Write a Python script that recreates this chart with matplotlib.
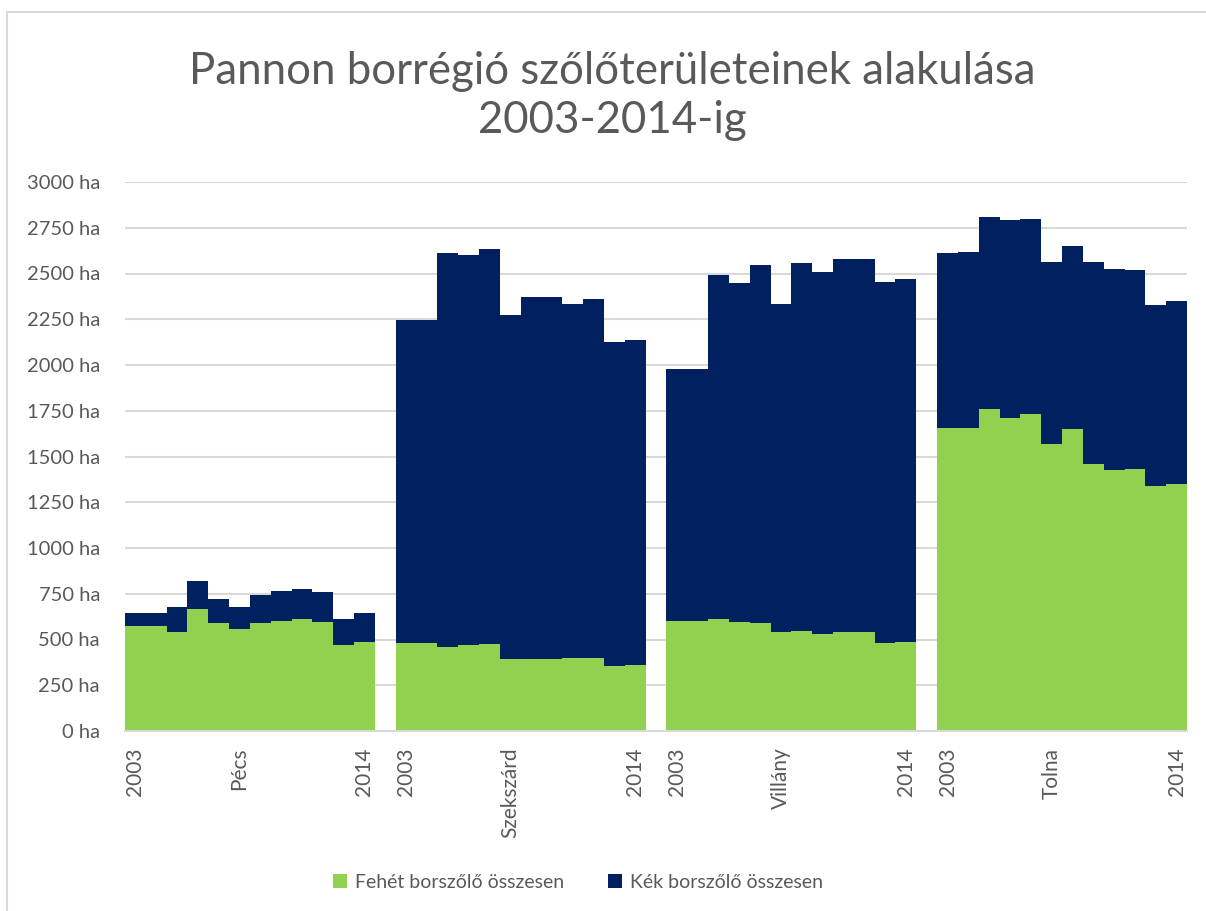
import matplotlib
matplotlib.use("Agg")
import matplotlib.pyplot as plt
from matplotlib.patches import Rectangle

# regions and years
regions = ["Pécs", "Szekszárd", "Villány", "Tolna"]
years = list(range(2003, 2015))

# white grape area (ha), 2003..2014 per region
white_pecs = [575, 575, 539, 665, 590, 557, 592, 601, 612, 596, 470, 486]
white_szekszard = [479, 479, 461, 468, 474, 392, 393, 392, 397, 397, 357, 361]
white_villany = [601, 601, 612, 594, 588, 539, 545, 532, 539, 539, 481, 488]
white_tolna = [1657, 1657, 1757, 1708, 1730, 1566, 1650, 1459, 1426, 1433, 1340, 1350]

# red (blue) grape area (ha)
blue_pecs = [71, 71, 139, 153, 130, 121, 149, 162, 166, 162, 142, 159]
blue_szekszard = [1767, 1767, 2153, 2133, 2160, 1879, 1980, 1981, 1936, 1964, 1767, 1776]
blue_villany = [1375, 1375, 1878, 1852, 1960, 1792, 2012, 1976, 2040, 2040, 1974, 1980]
blue_tolna = [957, 960, 1052, 1084, 1070, 997, 1000, 1102, 1099, 1088, 988, 1000]

white = [white_pecs, white_szekszard, white_villany, white_tolna]
blue = [blue_pecs, blue_szekszard, blue_villany, blue_tolna]

green_c = "#92D050"
navy_c = "#002060"
text_c = "#595959"
grid_c = "#D9D9D9"

plt.rcParams['font.family'] = ['Lato', 'DejaVu Sans']

fig = plt.figure(figsize=(12.06, 9.11), dpi=100)
ax = fig.add_axes([125 / 1206, 1 - 731 / 911, (1187 - 125) / 1206, (731 - 182) / 911])

n = len(years)
tick_pos, tick_lab = [], []
for g, name in enumerate(regions):
    start = g * (n + 1)
    xs = [start + i for i in range(n)]
    ax.bar(xs, white[g], width=1.0, color=green_c, linewidth=0,
           label="Fehét borszőlő összesen" if g == 0 else None)
    ax.bar(xs, blue[g], width=1.0, bottom=white[g], color=navy_c, linewidth=0,
           label="Kék borszőlő összesen" if g == 0 else None)
    tick_pos += [start, start + 5, start + n - 1]
    tick_lab += [str(years[0]), name, str(years[-1])]

ax.set_xlim(-0.5, len(regions) * (n + 1) - 1.5)
ax.set_ylim(0, 3000)
ax.set_yticks(range(0, 3001, 250))
ax.set_yticklabels([f"{v} ha" for v in range(0, 3001, 250)])
ax.set_xticks(tick_pos)
ax.set_xticklabels(tick_lab, rotation=90)

ax.tick_params(axis='both', length=0, labelsize=14.5, labelcolor=text_c)
ax.tick_params(axis='x', pad=12, labelsize=15)
ax.tick_params(axis='y', pad=18)
ax.grid(axis='y', color=grid_c, linewidth=1.5)
ax.set_axisbelow(True)
for s in ['top', 'right', 'left']:
    ax.spines[s].set_visible(False)
ax.spines['bottom'].set_color(grid_c)
ax.spines['bottom'].set_linewidth(1.5)

fig.text(612 / 1206, 1 - 96 / 911, "Pannon borrégió szőlőterületeinek alakulása\n2003-2014-ig",
         ha='center', va='center', fontsize=31.5, color=text_c, linespacing=1.25)

fig.legend(loc='center', bbox_to_anchor=(578 / 1206, 1 - 882 / 911), ncol=2, frameon=False,
           fontsize=14, labelcolor=text_c, handlelength=0.7, handleheight=0.7,
           handletextpad=0.4, columnspacing=2.3)

# chart area border
fig.patches.append(Rectangle((7 / 1206, -0.1), 1.2, 1 - 12 / 911 + 0.1, transform=fig.transFigure,
                             fill=False, edgecolor=grid_c, linewidth=1.5))

fig.savefig("out.png", dpi=100)
